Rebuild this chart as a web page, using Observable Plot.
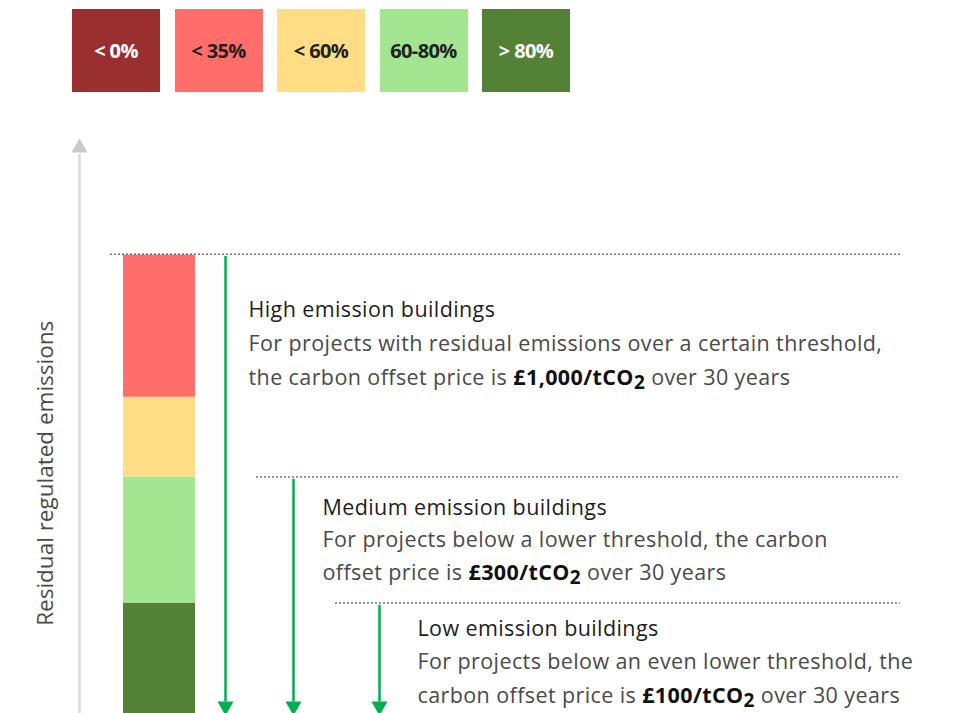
<!DOCTYPE html>
<html><head><meta charset="utf-8">
<script src="https://cdn.jsdelivr.net/npm/d3@7"></script>
<script src="https://cdn.jsdelivr.net/npm/@observablehq/plot@0.6"></script>
<style>
body{margin:0;background:#fff;font-family:"Open Sans",sans-serif;}
#wrap{position:relative;width:954px;height:713px;overflow:hidden}
#legend{position:relative;height:100px}
.sw{position:absolute;top:9px;width:88px;height:83px;display:flex;align-items:center;justify-content:center;font-weight:700;font-size:20px;letter-spacing:-0.6px;box-sizing:border-box;padding-bottom:1px}
</style></head><body><div id="wrap"><div id="legend"></div><div id="chart"></div></div>
<script>
// ---- data ----
const legendLabels = ["< 0%", "< 35%", "< 60%", "60-80%", "> 80%"];
const legendColors = ["#9a2f2f", "#ff6e6b", "#ffdd85", "#a3e590", "#538135"];
const legendTextColors = ["#ffffff", "#222222", "#222222", "#222222", "#ffffff"];

const segCategories = ["> 80%", "60-80%", "< 60%", "< 35%"];
const segColors = ["#538135", "#a3e590", "#ffdd85", "#ff6e6b"];
const segLow = [0, 24.1, 51.6, 69];
const segHigh = [24.1, 51.6, 69, 100];

const bandNames = ["High", "Medium", "Low"];
const bandLevels = [100.2, 51.6, 24.1];
const titles = ["High emission buildings", "Medium emission buildings", "Low emission buildings"];
const bodyLine1 = [
  "For projects with residual emissions over a certain threshold,",
  "For projects below a lower threshold, the carbon",
  "For projects below an even lower threshold, the"
];
const bodyLine2 = [
  "the carbon offset price is **£1,000/tCO_2** over 30 years",
  "offset price is **£300/tCO_2** over 30 years",
  "carbon offset price is **£100/tCO_2** over 30 years"
];
const axisLabel = "Residual regulated emissions";

// ---- layout (not data) ----
const layout = {
  axisX: 79, axisTop: 122, axisHead: 123.4,
  barX1: 123, barX2: 195,
  arrowX: [225, 293, 379],
  lineStart: [110, 256, 335], lineEnd: 900,
  textX: [248, 322, 417],
  titleY: [86.6, 43.2, 17.0], l1Y: [79.0, 36.4, 9.8], l2Y: [71.6, 29.2, 2.2],
  headY: 1.6
};

// ---- legend (HTML) ----
const leg = document.getElementById("legend");
legendLabels.forEach((lab, i) => {
  const d = document.createElement("div");
  d.className = "sw";
  d.style.left = (72 + i * 102.5) + "px";
  d.style.background = legendColors[i];
  d.style.color = legendTextColors[i];
  d.textContent = lab;
  leg.appendChild(d);
});

// ---- tables ----
const segments = segCategories.map((c, i) => ({cat: c, lo: segLow[i], hi: segHigh[i], color: segColors[i]}));
const bands = bandNames.map((n, i) => ({name: n, level: bandLevels[i], ax: layout.arrowX[i], x1: layout.lineStart[i]}));
const texts = [];
bandNames.forEach((n, i) => {
  texts.push({t: titles[i], x: layout.textX[i], y: layout.titleY[i], kind: "title"});
  texts.push({t: bodyLine1[i], x: layout.textX[i], y: layout.l1Y[i], kind: "body"});
  texts.push({t: bodyLine2[i], x: layout.textX[i], y: layout.l2Y[i], kind: "body"});
});

const chart = Plot.plot({
  width: 954, height: 613,
  margin: 0,
  style: {fontFamily: "'Open Sans', sans-serif", background: "#fff", overflow: "visible"},
  x: {domain: [0, 954], range: [0, 954], axis: null},
  y: {domain: [0, 125], range: [613, 40], axis: null},
  color: {type: "identity"},
  marks: [
    Plot.ruleX([0], {x: layout.axisX, y1: 0, y2: layout.axisTop, stroke: "#d9d9d9", strokeWidth: 2.5}),
    Plot.dot([0], {x: layout.axisX, y: layout.axisHead, symbol: "triangle", r: 6, fill: "#c9c9c9", stroke: null}),
    Plot.text([axisLabel], {x: 45, y: 52.4, text: d => d, rotate: -90, fontSize: 22.5, fill: "#4a4a4a"}),
    Plot.rect(segments, {x1: layout.barX1, x2: layout.barX2, y1: "lo", y2: "hi", fill: "color"}),
    Plot.ruleY(bands, {y: "level", x1: "x1", x2: layout.lineEnd, stroke: "#333", strokeWidth: 1, strokeDasharray: "2,2"}),
    Plot.ruleX(bands, {x: "ax", y1: d => d.level - 0.5, y2: 2.5, stroke: "#00b050", strokeWidth: 2.5}),
    Plot.dot(bands, {x: "ax", y: layout.headY, symbol: "triangle", r: 6, rotate: 180, fill: "#00b050", stroke: null}),
    Plot.text(texts, {x: "x", y: "y", text: "t", textAnchor: "start", lineAnchor: "bottom", fontSize: 21.5,
      fontWeight: d => d.kind === "title" ? 500 : 400,
      fill: d => d.kind === "title" ? "#1e1e1e" : "#4a4a4a"})
  ]
});
document.getElementById("chart").appendChild(chart);

// letter spacing + rich text (bold + subscript)
d3.select(chart).selectAll("text").each(function() {
  const s = this.textContent;
  if (s !== axisLabel) this.setAttribute("letter-spacing", "0.4");
  if (!s.includes("**")) return;
  const parts = s.split("**");
  const el = d3.select(this);
  el.text(null);
  parts.forEach((p, k) => {
    if (k % 2 === 1) {
      const [a, b] = p.split("_2");
      el.append("tspan").attr("font-weight", 700).attr("fill", "#111").text(a);
      el.append("tspan").attr("font-weight", 700).attr("fill", "#111").attr("font-size", 19).attr("baseline-shift", -4).text("2");
      el.append("tspan").text(b || "");
    } else {
      el.append("tspan").text(p);
    }
  });
});
</script></body></html>
